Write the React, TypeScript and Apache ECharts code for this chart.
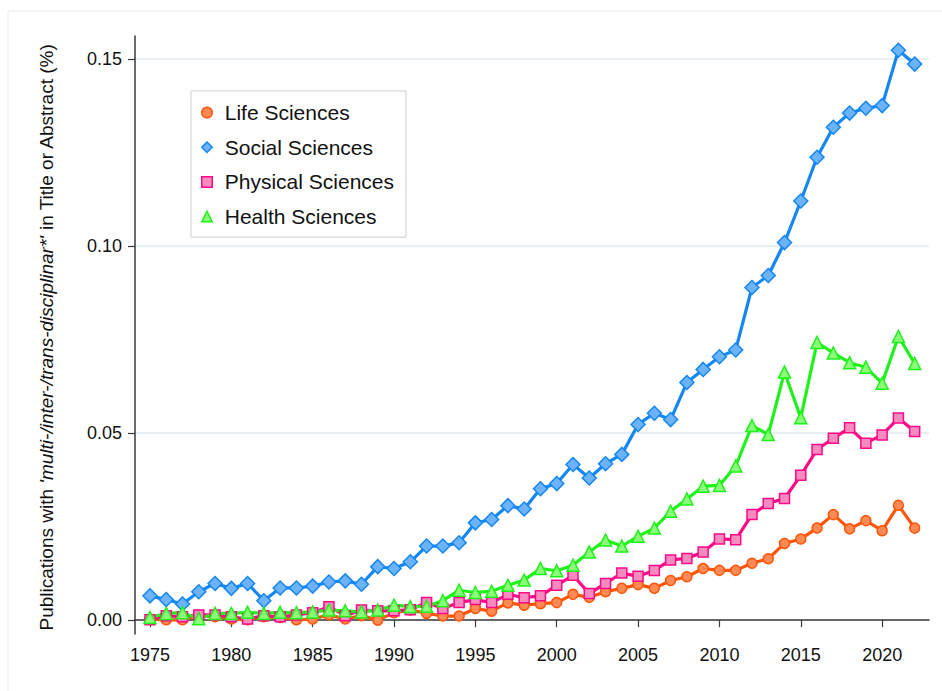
import React, { useEffect, useRef } from "react";
import * as echarts from "echarts";

const years: number[] = [];
for (let y = 1975; y <= 2022; y++) years.push(y);

const lifeSciences = [
  0.0003, 0.0001, 0.0001, 0.0012, 0.0009, 0.0003, 0.0001, 0.0009, 0.0007, 0.0001,
  0.0003, 0.0014, 0.0003, 0.0012, 0.0000, 0.0020, 0.0027, 0.0018, 0.0011, 0.0011,
  0.0031, 0.0024, 0.0046, 0.0040, 0.0044, 0.0047, 0.0069, 0.0061, 0.0076, 0.0085,
  0.0095, 0.0085, 0.0106, 0.0116, 0.0138, 0.0133, 0.0133, 0.0152, 0.0164, 0.0205,
  0.0217, 0.0246, 0.0282, 0.0244, 0.0266, 0.0239, 0.0307, 0.0246,
];

const socialSciences = [
  0.0065, 0.0055, 0.0043, 0.0076, 0.0098, 0.0085, 0.0098, 0.0052, 0.0086, 0.0086,
  0.0091, 0.0102, 0.0105, 0.0096, 0.0143, 0.0138, 0.0156, 0.0198, 0.0198, 0.0207,
  0.0260, 0.0269, 0.0306, 0.0297, 0.0351, 0.0365, 0.0416, 0.0380, 0.0418, 0.0443,
  0.0523, 0.0553, 0.0536, 0.0635, 0.0670, 0.0704, 0.0722, 0.0889, 0.0921, 0.1009,
  0.1120, 0.1237, 0.1317, 0.1355, 0.1368, 0.1375, 0.1523, 0.1486,
];

const physicalSciences = [
  0.0001, 0.0012, 0.0009, 0.0014, 0.0014, 0.0009, 0.0003, 0.0012, 0.0009, 0.0014,
  0.0020, 0.0036, 0.0012, 0.0027, 0.0025, 0.0025, 0.0028, 0.0047, 0.0031, 0.0047,
  0.0055, 0.0047, 0.0069, 0.0060, 0.0065, 0.0093, 0.0120, 0.0071, 0.0098, 0.0126,
  0.0117, 0.0133, 0.0161, 0.0165, 0.0182, 0.0217, 0.0215, 0.0282, 0.0312, 0.0325,
  0.0387, 0.0456, 0.0486, 0.0514, 0.0473, 0.0495, 0.0540, 0.0504,
];

const healthSciences = [
  0.0007, 0.0018, 0.0020, 0.0004, 0.0018, 0.0018, 0.0021, 0.0018, 0.0021, 0.0020,
  0.0022, 0.0027, 0.0025, 0.0022, 0.0027, 0.0040, 0.0036, 0.0037, 0.0052, 0.0080,
  0.0074, 0.0077, 0.0093, 0.0107, 0.0138, 0.0132, 0.0147, 0.0182, 0.0214, 0.0198,
  0.0224, 0.0246, 0.0291, 0.0324, 0.0358, 0.0360, 0.0412, 0.0520, 0.0496, 0.0663,
  0.0541, 0.0742, 0.0714, 0.0688, 0.0676, 0.0633, 0.0758, 0.0686,
];

const xTickLabels = [1975, 1980, 1985, 1990, 1995, 2000, 2005, 2010, 2015, 2020];
const yTickLabels = [0, 0.05, 0.1, 0.15];

const seriesDefs = [
  { name: "Life Sciences", values: lifeSciences, symbol: "circle", size: 10, line: "#ff5508", fill: "#ff8a55" },
  { name: "Social Sciences", values: socialSciences, symbol: "diamond", size: 14, line: "#1487f2", fill: "#6cb3fb" },
  { name: "Physical Sciences", values: physicalSciences, symbol: "rect", size: 10, line: "#ff0a86", fill: "#f78abf" },
  { name: "Health Sciences", values: healthSciences, symbol: "triangle", size: 12, line: "#1ff21a", fill: "#8cff7a" },
];

export default function App() {
  const ref = useRef<HTMLDivElement>(null);
  useEffect(() => {
    if (!ref.current) return;
    const chart = echarts.init(ref.current, null, { renderer: "svg" });
    const font = "'Liberation Sans', Arial, Helvetica, sans-serif";
    chart.setOption({
      animation: false,
      backgroundColor: "#ffffff",
      textStyle: { fontFamily: font },
      grid: { left: 135, right: 13, top: 36, bottom: 57, containLabel: false },
      xAxis: {
        type: "value",
        min: 1974.08,
        max: 2022.88,
        axisLine: { show: true, lineStyle: { color: "#3a3a3a", width: 1.5 } },
        axisTick: { show: true, length: 7, customValues: xTickLabels, lineStyle: { color: "#3a3a3a", width: 1.2 } },
        axisLabel: {
          customValues: xTickLabels,
          formatter: (v: number) => String(Math.round(v)),
          fontSize: 18,
          color: "#111",
          margin: 12,
          fontFamily: font,
        },
        splitLine: { show: false },
      },
      yAxis: {
        type: "value",
        min: -0.0037,
        max: 0.1561,
        axisLine: { show: true, onZero: false, lineStyle: { color: "#3a3a3a", width: 1.5 } },
        axisTick: { show: true, length: 7, customValues: yTickLabels, lineStyle: { color: "#3a3a3a", width: 1.2 } },
        axisLabel: {
          customValues: yTickLabels,
          formatter: (v: number) => v.toFixed(2),
          fontSize: 18,
          color: "#111",
          margin: 13,
          fontFamily: font,
        },
        splitLine: { show: true, lineStyle: { color: "#e8eff2", width: 2 } },
      },
      legend: {
        orient: "vertical",
        left: 191,
        top: 91,
        padding: [11, 12, 10, 10],
        itemGap: 13.7,
        itemWidth: 10.5,
        itemHeight: 10.5,
        borderColor: "#cfcfcf",
        borderWidth: 1,
        backgroundColor: "#ffffff",
        textStyle: { fontSize: 21, color: "#111", fontFamily: font, lineHeight: 20, padding: [0, 0, 0, 7.5] },
        data: seriesDefs.map((s) => ({
          name: s.name,
          icon: s.symbol,
          itemStyle: { color: s.fill, borderColor: s.line, borderWidth: 1.5 },
        })),
      },
      graphic: [
        { type: "line", shape: { x1: 8, y1: 11, x2: 942, y2: 11 }, style: { stroke: "#e6eef0", lineWidth: 1 }, silent: true },
        { type: "line", shape: { x1: 8, y1: 11, x2: 8, y2: 691 }, style: { stroke: "#e6eef0", lineWidth: 1 }, silent: true },
        {
          type: "text",
          x: 46,
          y: 337,
          rotation: Math.PI / 2,
          style: {
            text: "{a|Publications with }{b|'multi-/inter-/trans-disciplinar*'}{a| in Title or Abstract (%)}",
            align: "center",
            verticalAlign: "middle",
            fill: "#111",
            rich: {
              a: { fontSize: 19, fontFamily: font, fill: "#111" },
              b: { fontSize: 19, fontFamily: font, fontStyle: "italic", fill: "#111" },
            },
          },
        },
      ],
      series: seriesDefs.map((s) => ({
        name: s.name,
        type: "line",
        data: years.map((y, i) => [y, s.values[i]]),
        symbol: s.symbol,
        symbolSize: s.size,
        showAllSymbol: true,
        lineStyle: { color: s.line, width: 3.2 },
        itemStyle: { color: s.fill, borderColor: s.line, borderWidth: 1.5 },
        emphasis: { disabled: true },
      })),
    });
    return () => chart.dispose();
  }, []);
  return (
    <div
      ref={ref}
      style={{ position: "fixed", left: 0, top: 0, width: 942, height: 691 }}
    />
  );
}
